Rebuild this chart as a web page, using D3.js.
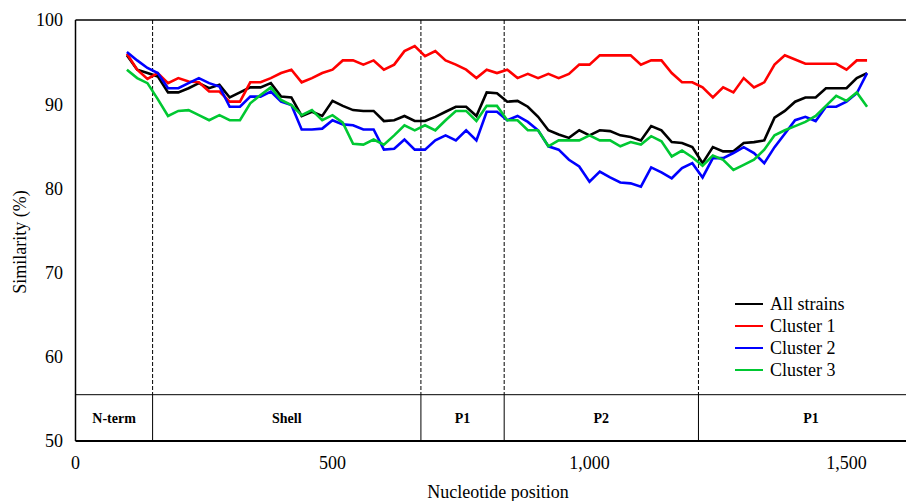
<!DOCTYPE html>
<html lang="en">
<head>
<meta charset="utf-8">
<title>Similarity plot</title>
<script src="https://cdn.jsdelivr.net/npm/d3@7"></script>
<style>
  body { margin: 0; background: #fff; }
  text { font-family: "Liberation Serif", "Times New Roman", serif; fill: #000; }
</style>
</head>
<body>
<div class="chart"></div>
<script>
// sliding window centres (nt)
const positions = d3.range(100, 1541, 20);

const allStrains = [
  95.8, 94.1, 93.7, 93.3, 91.4, 91.4, 91.9, 92.5, 91.9, 92.3,
  90.8, 91.4, 92.0, 92.0, 92.5, 90.9, 90.8, 88.6, 89.1, 88.6,
  90.4, 89.8, 89.3, 89.2, 89.2, 88.0, 88.1, 88.6, 88.0, 88.0,
  88.5, 89.1, 89.7, 89.7, 88.6, 91.4, 91.3, 90.3, 90.4, 89.7,
  88.5, 86.9, 86.4, 86.0, 86.9, 86.3, 86.9, 86.8, 86.3, 86.1,
  85.7, 87.4, 86.9, 85.5, 85.4, 84.9, 83.0, 84.9, 84.4, 84.4,
  85.4, 85.5, 85.7, 88.4, 89.2, 90.3, 90.8, 90.8, 91.9, 91.9,
  91.9, 93.1, 93.7
];
const cluster1 = [
  96.0, 94.1, 93.0, 93.7, 92.5, 93.1, 92.7, 92.6, 91.5, 91.5,
  90.3, 90.3, 92.6, 92.6, 93.1, 93.7, 94.1, 92.6, 93.1, 93.7,
  94.1, 95.2, 95.2, 94.7, 95.2, 94.1, 94.7, 96.3, 96.9, 95.7,
  96.3, 95.2, 94.7, 94.1, 93.1, 94.1, 93.7, 94.1, 93.1, 93.6,
  93.1, 93.6, 93.1, 93.6, 94.7, 94.7, 95.8, 95.8, 95.8, 95.8,
  94.7, 95.2, 95.2, 93.7, 92.6, 92.6, 92.0, 90.8, 92.0, 91.4,
  93.1, 92.0, 92.6, 94.7, 95.8, 95.3, 94.8, 94.8, 94.8, 94.8,
  94.1, 95.2, 95.2
];
const cluster2 = [
  96.2, 95.2, 94.3, 93.7, 91.9, 91.9, 92.5, 93.1, 92.5, 92.1,
  89.7, 89.7, 90.9, 90.9, 91.5, 90.3, 89.9, 87.0, 87.0, 87.1,
  88.1, 87.6, 87.5, 87.0, 87.0, 84.6, 84.7, 85.8, 84.6, 84.6,
  85.7, 86.3, 85.7, 86.9, 85.7, 89.1, 89.1, 88.1, 88.6, 87.9,
  86.9, 85.0, 84.6, 83.4, 82.6, 80.8, 82.0, 81.3, 80.7, 80.6,
  80.2, 82.5, 81.9, 81.2, 82.4, 83.0, 81.3, 83.6, 83.6, 84.2,
  84.9, 84.2, 83.0, 84.9, 86.5, 88.1, 88.5, 88.0, 89.7, 89.7,
  90.3, 91.3, 93.7
];
const cluster3 = [
  94.1, 93.1, 92.5, 90.6, 88.6, 89.2, 89.3, 88.7, 88.1, 88.7,
  88.1, 88.1, 90.1, 91.1, 92.0, 90.5, 89.9, 88.7, 89.3, 88.1,
  88.7, 87.8, 85.3, 85.2, 85.8, 85.2, 86.3, 87.5, 86.9, 87.5,
  86.9, 88.1, 89.2, 89.2, 88.0, 89.8, 89.8, 88.1, 88.1, 86.9,
  86.9, 85.0, 85.7, 85.7, 85.7, 86.3, 85.7, 85.7, 85.0, 85.5,
  85.2, 86.2, 85.6, 83.8, 84.5, 83.7, 82.7, 83.9, 83.4, 82.2,
  82.8, 83.4, 84.6, 86.3, 86.9, 87.4, 87.9, 88.6, 89.8, 91.0,
  90.4, 91.4, 89.7
];

const seriesNames = ["All strains", "Cluster 1", "Cluster 2", "Cluster 3"];
const seriesValues = [allStrains, cluster1, cluster2, cluster3];
const seriesColors = ["#000000", "#ff0000", "#0000ff", "#00c832"];

// protein regions (start, end in nt)
const regionNames = ["N-term", "Shell", "P1", "P2", "P1"];
const regionBounds = [0, 150, 672, 834, 1212, 1650];

const xTicks = [0, 500, 1000, 1500];
const yTicks = [50, 60, 70, 80, 90, 100];

const width = 906, height = 501;
const margin = {top: 20, left: 75.5, bottom: 60};

const svg = d3.select(".chart").append("svg")
  .attr("width", width)
  .attr("height", height);

const x = d3.scaleLinear().domain([0, 1650]).range([margin.left, margin.left + 1650 * 0.514]);
const y = d3.scaleLinear().domain([50, 100]).range([height - margin.bottom, margin.top]);

const bandTop = 55.5;

// frame
svg.append("line")
  .attr("x1", x(0)).attr("x2", width)
  .attr("y1", y(100)).attr("y2", y(100))
  .attr("stroke", "#000").attr("stroke-width", 1.5);
svg.append("line")
  .attr("x1", x(0)).attr("x2", width)
  .attr("y1", y(50)).attr("y2", y(50))
  .attr("stroke", "#000").attr("stroke-width", 2);
svg.append("line")
  .attr("x1", x(0)).attr("x2", x(0))
  .attr("y1", y(100)).attr("y2", y(50))
  .attr("stroke", "#000").attr("stroke-width", 1.5);
svg.append("line")
  .attr("x1", x(0)).attr("x2", width)
  .attr("y1", y(bandTop)).attr("y2", y(bandTop))
  .attr("stroke", "#000").attr("stroke-width", 1);

// region boundaries: dashed above, solid in band
const inner = regionBounds.slice(1, -1);
svg.selectAll(".bound-dash")
  .data(inner)
  .enter()
  .append("line")
  .attr("x1", d => x(d)).attr("x2", d => x(d))
  .attr("y1", y(100)).attr("y2", y(bandTop))
  .attr("stroke", "#000").attr("stroke-width", 1)
  .attr("stroke-dasharray", "4,2");
svg.selectAll(".bound-solid")
  .data(inner)
  .enter()
  .append("line")
  .attr("x1", d => x(d)).attr("x2", d => x(d))
  .attr("y1", y(bandTop)).attr("y2", y(50))
  .attr("stroke", "#000").attr("stroke-width", 1);

svg.selectAll(".region")
  .data(regionNames)
  .enter()
  .append("text")
  .attr("x", (d, i) => (x(regionBounds[i]) + x(regionBounds[i + 1])) / 2)
  .attr("y", (y(bandTop) + y(50)) / 2 + 5)
  .attr("text-anchor", "middle")
  .attr("font-size", "14px")
  .attr("font-weight", "bold")
  .text(d => d);

// axes labels
svg.selectAll(".ytick")
  .data(yTicks)
  .enter()
  .append("text")
  .attr("x", 63)
  .attr("y", d => y(d))
  .attr("dy", "0.35em")
  .attr("text-anchor", "end")
  .attr("font-size", "18px")
  .text(d => d);

svg.selectAll(".xtick")
  .data(xTicks)
  .enter()
  .append("text")
  .attr("x", d => x(d))
  .attr("y", 469)
  .attr("text-anchor", "middle")
  .attr("font-size", "18px")
  .text(d => d3.format(",")(d));

svg.append("text")
  .attr("transform", "translate(26,242) rotate(-90)")
  .attr("text-anchor", "middle")
  .attr("font-size", "18px")
  .text("Similarity (%)");

svg.append("text")
  .attr("x", 498)
  .attr("y", 498)
  .attr("text-anchor", "middle")
  .attr("font-size", "18px")
  .text("Nucleotide position");

// series
const line = d3.line()
  .x((d, i) => x(positions[i]))
  .y(d => y(d));

svg.selectAll(".series")
  .data(seriesValues)
  .enter()
  .append("path")
  .attr("fill", "none")
  .attr("stroke", (d, i) => seriesColors[i])
  .attr("stroke-width", 2.6)
  .attr("stroke-linejoin", "miter")
  .attr("d", d => line(d));

// legend
const legend = svg.selectAll(".legend")
  .data(seriesNames)
  .enter()
  .append("g")
  .attr("transform", (d, i) => `translate(735, ${304 + i * 22})`);
legend.append("line")
  .attr("x1", 0).attr("x2", 28)
  .attr("y1", 0).attr("y2", 0)
  .attr("stroke", (d, i) => seriesColors[i])
  .attr("stroke-width", 2);
legend.append("text")
  .attr("x", 35)
  .attr("y", 0)
  .attr("dy", "0.33em")
  .attr("font-size", "18px")
  .text(d => d);
</script>
</body>
</html>
